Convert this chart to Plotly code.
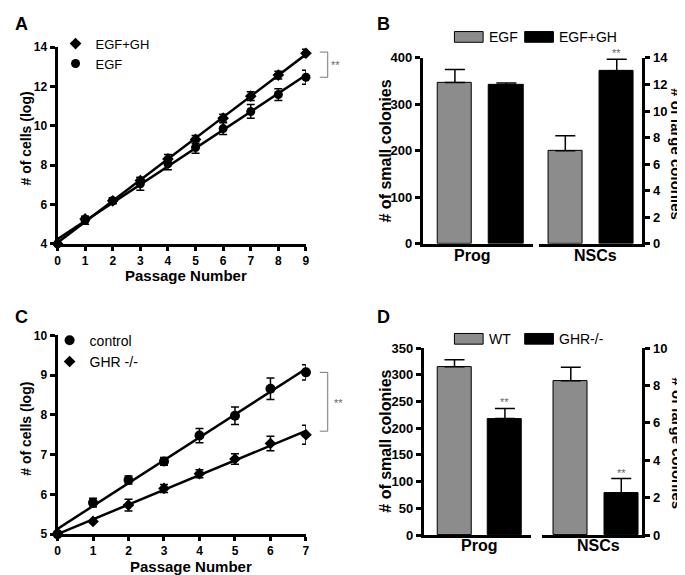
import numpy as np
import plotly.graph_objects as go

W, H = 685, 575
FONT = "Liberation Sans, Arial, sans-serif"
GRAY = "#8c8c8c"

# ---- data ----
# A: growth curves, EGF vs EGF+GH
a_passage = [0, 1, 2, 3, 4, 5, 6, 7, 8, 9]
a_egf_gh = [4.0, 5.27, 6.19, 7.22, 8.32, 9.31, 10.39, 11.51, 12.58, 13.69]
a_egf_gh_err = [0.05, 0.12, 0.12, 0.15, 0.22, 0.2, 0.2, 0.22, 0.2, 0.2]
a_egf = [4.0, 5.2, 6.19, 7.05, 8.07, 8.9, 9.86, 10.73, 11.59, 12.47]
a_egf_err = [0.05, 0.2, 0.15, 0.33, 0.3, 0.3, 0.3, 0.35, 0.3, 0.35]

# C: growth curves, control vs GHR -/-
c_passage = [0, 1, 2, 3, 4, 5, 6, 7]
c_control = [5.0, 5.79, 6.36, 6.83, 7.48, 7.98, 8.66, 9.07]
c_control_err = [0.02, 0.11, 0.1, 0.1, 0.18, 0.22, 0.27, 0.19]
c_ghr = [5.0, 5.32, 5.73, 6.15, 6.52, 6.89, 7.28, 7.5]
c_ghr_err = [0.0, 0.02, 0.15, 0.1, 0.1, 0.13, 0.18, 0.24]

# B: colonies, EGF vs EGF+GH
b_conditions = ["EGF", "EGF+GH"]
b_prog_small = [347, 341]
b_prog_small_err = [28, 5]
b_nsc_large = [7.0, 13.0]
b_nsc_large_err = [1.14, 0.9]

# D: colonies, WT vs GHR-/-
d_conditions = ["WT", "GHR-/-"]
d_prog_small = [315, 218]
d_prog_small_err = [13, 19]
d_nsc_large = [8.25, 2.26]
d_nsc_large_err = [0.73, 0.76]

bar_colors = [GRAY, "black"]


def px(x):
    return x / W


def py(y):
    return 1 - y / H


fig = go.Figure()


def add_growth(xs, ys, err, name, symbol, size, xa, ya, legend):
    slope, icpt = np.polyfit(xs, ys, 1)
    fit = [icpt + slope * x for x in xs]
    fig.add_trace(go.Scatter(
        x=xs, y=fit, mode="lines", line=dict(color="black", width=2.5),
        xaxis=xa, yaxis=ya, showlegend=False, cliponaxis=False, hoverinfo="skip"))
    fig.add_trace(go.Scatter(
        x=xs, y=ys, mode="markers", name=name,
        marker=dict(symbol=symbol, size=size, color="black"),
        error_y=dict(type="data", array=err, color="black", thickness=1.5, width=4),
        xaxis=xa, yaxis=ya, legend=legend, cliponaxis=False))


add_growth(a_passage, a_egf_gh, a_egf_gh_err, "EGF+GH", "diamond", 9, "x", "y", "legend")
add_growth(a_passage, a_egf, a_egf_err, "EGF", "circle", 9, "x", "y", "legend")
add_growth(c_passage, c_control, c_control_err, "control", "circle", 10, "x2", "y2", "legend2")
add_growth(c_passage, c_ghr, c_ghr_err, "GHR -/-", "diamond", 9, "x2", "y2", "legend2")


def add_bars(cats, vals, err, xa, ya):
    fig.add_trace(go.Bar(
        x=cats, y=vals, width=0.67,
        marker=dict(color=bar_colors, line=dict(color="black", width=1)),
        error_y=dict(type="data", symmetric=False, array=err, arrayminus=[0] * len(err),
                     color="black", thickness=1.5, width=10),
        xaxis=xa, yaxis=ya, showlegend=False))


add_bars(b_conditions, b_prog_small, b_prog_small_err, "x3", "y3")
add_bars(b_conditions, b_nsc_large, b_nsc_large_err, "x4", "y4")
add_bars(d_conditions, d_prog_small, d_prog_small_err, "x5", "y5")
add_bars(d_conditions, d_nsc_large, d_nsc_large_err, "x6", "y6")

axis_base = dict(showline=True, linecolor="black", linewidth=3, showgrid=False,
                 zeroline=False, ticks="outside", tickcolor="black", tickwidth=2.5,
                 fixedrange=True)
tick12 = dict(family=FONT, size=12, color="black", weight="bold")
tick13 = dict(family=FONT, size=13, color="black", weight="bold")
bar_x = dict(showline=True, linecolor="black", linewidth=3, showgrid=False,
             zeroline=False, ticks="", showticklabels=False, type="category")

fig.update_layout(
    width=W, height=H, margin=dict(l=0, r=0, t=0, b=0),
    paper_bgcolor="white", plot_bgcolor="white",
    bargap=0,
    xaxis=dict(axis_base, domain=[px(47), px(298)], range=[0, 9], dtick=1, tick0=0,
               ticklen=4, tickfont=tick12, anchor="y"),
    yaxis=dict(axis_base, domain=[py(235), py(33)], range=[4, 14], dtick=2,
               ticklen=5, tickfont=tick12, anchor="x"),
    xaxis2=dict(axis_base, domain=[px(47), px(298)], range=[0, 7], dtick=1, tick0=0,
                ticklen=4, tickfont=tick12, anchor="y2"),
    yaxis2=dict(axis_base, domain=[py(533), py(329)], range=[5, 10], dtick=1,
                ticklen=5, tickfont=tick12, anchor="x2"),
    xaxis3=dict(bar_x, domain=[px(416), px(527)], range=[-0.625, 1.51], anchor="y3"),
    yaxis3=dict(axis_base, domain=[py(235), py(44)], range=[0, 400], dtick=100,
                ticklen=5, tickfont=tick13, anchor="x3"),
    xaxis4=dict(bar_x, domain=[px(533), px(638)], range=[-0.52, 1.5], anchor="y4"),
    yaxis4=dict(axis_base, domain=[py(235), py(44)], range=[0, 14], dtick=2,
                ticklen=5, tickfont=tick13, anchor="x4", side="right"),
    xaxis5=dict(bar_x, domain=[px(417), px(525)], range=[-0.61, 1.51], anchor="y5"),
    yaxis5=dict(axis_base, domain=[py(534), py(342)], range=[0, 350], dtick=50,
                ticklen=5, tickfont=tick13, anchor="x5"),
    xaxis6=dict(bar_x, domain=[px(536), px(638)], range=[-0.58, 1.42], anchor="y6"),
    yaxis6=dict(axis_base, domain=[py(534), py(342)], range=[0, 10], dtick=2,
                ticklen=5, tickfont=tick13, anchor="x6", side="right"),
    legend=dict(x=px(45), y=py(14), xanchor="left", yanchor="top",
                font=dict(family=FONT, size=13, color="black"),
                bgcolor="rgba(0,0,0,0)", itemwidth=30, tracegroupgap=0),
    legend2=dict(x=px(39), y=py(318), xanchor="left", yanchor="top",
                 font=dict(family=FONT, size=14, color="black"),
                 bgcolor="rgba(0,0,0,0)", itemwidth=30, tracegroupgap=0),
)

ann = []


def text(x, y, s, size, bold=True, angle=0, color="black", xanchor="center"):
    ann.append(dict(x=px(x), y=py(y), xref="paper", yref="paper", text=s,
                    showarrow=False, textangle=angle, xanchor=xanchor, yanchor="middle",
                    font=dict(family=FONT, size=size, color=color,
                              weight="bold" if bold else "normal")))


# panel letters
text(2, 9, "A", 18, xanchor="left")
text(368, 9, "B", 18, xanchor="left")
text(2, 310, "C", 18, xanchor="left")
text(368, 310, "D", 18, xanchor="left")

# axis titles
text(15, 127, "# of cells (log)", 14, angle=-90)
text(177, 267, "Passage Number", 15)
text(15, 425, "# of cells (log)", 14, angle=-90)
text(182, 566, "Passage Number", 15)
text(378, 140, "# of small colonies", 16, angle=-90)
text(673, 143, "# of large colonies", 15, angle=90)
text(378, 438, "# of small colonies", 16, angle=-90)
text(673, 440, "# of large colonies", 15, angle=90)
text(466, 247, "Prog", 16)
text(591, 247, "NSCs", 16)
text(473, 545, "Prog", 16)
text(594, 545, "NSCs", 16)

# significance marks
text(328, 51, "**", 11, bold=False, color="#666666")
text(331, 398, "**", 11, bold=False, color="#666666")
for xa, ya, cat, val, err in [("x4", "y4", b_conditions[1], b_nsc_large[1], b_nsc_large_err[1]),
                              ("x5", "y5", d_conditions[1], d_prog_small[1], d_prog_small_err[1]),
                              ("x6", "y6", d_conditions[1], d_nsc_large[1], d_nsc_large_err[1])]:
    ann.append(dict(x=cat, y=val + err, xref=xa, yref=ya, text="**", showarrow=False,
                    yanchor="bottom", yshift=-2,
                    font=dict(family=FONT, size=11, color="#666666")))

# bar legends
legend_items = [(17, 28, b_conditions), (327, 338, d_conditions)]
shapes = []
for y0, y1, cats in legend_items:
    for (bx0, bx1, tx), cat, col in zip([(448, 477, 481), (519, 548, 552)], cats, bar_colors):
        shapes.append(dict(type="rect", xref="paper", yref="paper",
                           x0=px(bx0), x1=px(bx1), y0=py(y1), y1=py(y0),
                           fillcolor=col, line=dict(color="black", width=1)))
        text(tx, (y0 + y1) / 2, cat, 14, bold=False, xanchor="left")

# significance brackets (A and C)
for yref, top, bot in [("y", 13.75, 12.47), ("y2", 9.07, 7.59)]:
    for seg in [(312, top, 320, top), (320, top, 320, bot), (312, bot, 320, bot)]:
        shapes.append(dict(type="line", xref="paper", yref=yref,
                           x0=px(seg[0]), y0=seg[1], x1=px(seg[2]), y1=seg[3],
                           line=dict(color="#777777", width=1)))

fig.update_layout(annotations=ann, shapes=shapes)

fig.write_html("out.html")
